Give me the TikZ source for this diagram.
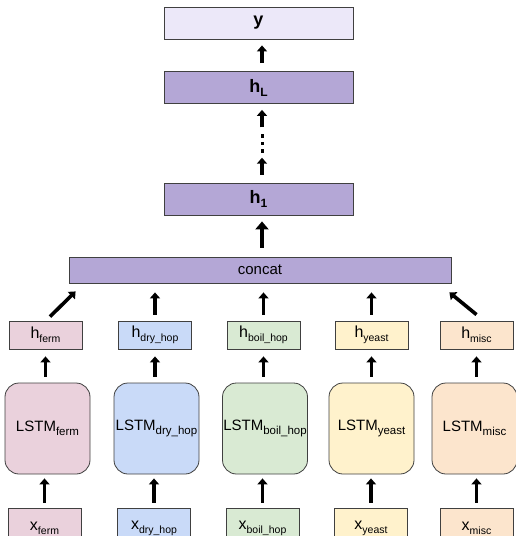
\documentclass[tikz,border=0pt]{standalone}
\usepackage{fontspec}
\setmainfont{Liberation Sans}
\usetikzlibrary{arrows.meta,calc}
\newcommand\sbs[2][10.5]{\raisebox{-4pt}{\fontsize{#1}{#1}\selectfont #2}}
\definecolor{ylav}{HTML}{ECE8F9}
\definecolor{purp}{HTML}{B4A7D6}
\definecolor{cferm}{HTML}{EAD1DC}
\definecolor{cdry}{HTML}{C9DAF8}
\definecolor{cboil}{HTML}{D9EAD3}
\definecolor{cyeast}{HTML}{FFF2CC}
\definecolor{cmisc}{HTML}{FCE5CD}
\begin{document}
\begin{tikzpicture}[x=1pt,y=-1pt,
  box/.style={draw=black!75, line width=0.8pt, inner sep=0pt, font=\fontsize{16}{18}\selectfont},
  wide/.style={box, minimum width=189, minimum height=32, font=\fontsize{18}{20}\selectfont\bfseries},
  hbox/.style={box, minimum width=73, minimum height=28},
  xbox/.style={box, minimum width=73, minimum height=40},
  lstm/.style={box, minimum width=85, minimum height=91, rounded corners=14pt, font=\fontsize{15}{17}\selectfont},
  arr/.style={line width=3.6pt, -{Triangle[length=6pt,width=10pt]}},
  bigarr/.style={line width=4.5pt, -{Triangle[length=8pt,width=13pt]}}
]
\useasboundingbox (0,0) rectangle (516,536);
\clip (0,0) rectangle (516,536);

% top chain
\node[wide, fill=ylav] (y) at (258.5,23) {y};
\node[wide, fill=purp] (hL) at (258.5,87.5) {h\sbs[12]{L}};
\node[wide, fill=purp] (h1) at (258.5,199) {h\sbs[12]{1}};
\node[box, fill=purp, minimum width=382, minimum height=26, font=\fontsize{15}{17}\selectfont] (concat) at (260,270) {concat};
\node[minimum width=4, minimum height=20, inner sep=0pt] (dots) at (262,143.5) {};
\foreach \yy in {136,143.5,151}
  \fill (260.5,\yy-1.6) rectangle (263.5,\yy+1.6);
\coordinate (ax) at (262,0);

\draw[arr, shorten <=8pt, shorten >=6pt] (hL.north -| ax) -- (y.south -| ax);
\draw[arr, shorten <=6pt, shorten >=6pt] (dots.north) -- (hL.south -| ax);
\draw[arr, shorten <=8pt, shorten >=4pt] (h1.north -| ax) -- (dots.south);
\draw[bigarr, shorten <=9pt, shorten >=6pt] (concat.north -| ax) -- (h1.south -| ax);

% columns
\foreach \n/\hc/\lc/\xc/\col/\lab in {
  ferm/45.5/47.5/44.5/cferm/ferm,
  dry/155/156.5/154/cdry/dry\_hop,
  boil/263.5/265/262.5/cboil/boil\_hop,
  yeast/371.5/371.5/371/cyeast/yeast,
  misc/476.5/474.5/476.5/cmisc/misc}{
  \node[hbox, fill=\col] (h\n) at (\hc,335) {h\sbs{\lab}};
  \node[lstm, fill=\col] (l\n) at (\lc,428.5) {LSTM\sbs[11.5]{\lab}};
  \node[xbox, fill=\col] (x\n) at (\xc,528) {\raisebox{4pt}{x\sbs{\lab}}};
  \draw[arr, shorten <=6pt, shorten >=7pt] (l\n.north -| h\n.south) -- (h\n.south);
  \draw[arr, shorten <=5pt, shorten >=4pt] (x\n.north) -- (l\n.south -| x\n.north);
}

% h -> concat
\draw[arr] ($(hferm.north)+(4.5,-4)$) -- ($(concat.south west)+(7,8)$);
\draw[arr, shorten <=6pt, shorten >=9pt] (hdry.north) -- (concat.south -| hdry.north);
\draw[arr, shorten <=6pt, shorten >=9pt] (hboil.north) -- (concat.south -| hboil.north);
\draw[arr, shorten <=6pt, shorten >=9pt] (hyeast.north) -- (concat.south -| hyeast.north);
\draw[arr] ($(hmisc.north)+(0,-6)$) -- ($(concat.south east)+(-2,9)$);
\end{tikzpicture}
\end{document}
